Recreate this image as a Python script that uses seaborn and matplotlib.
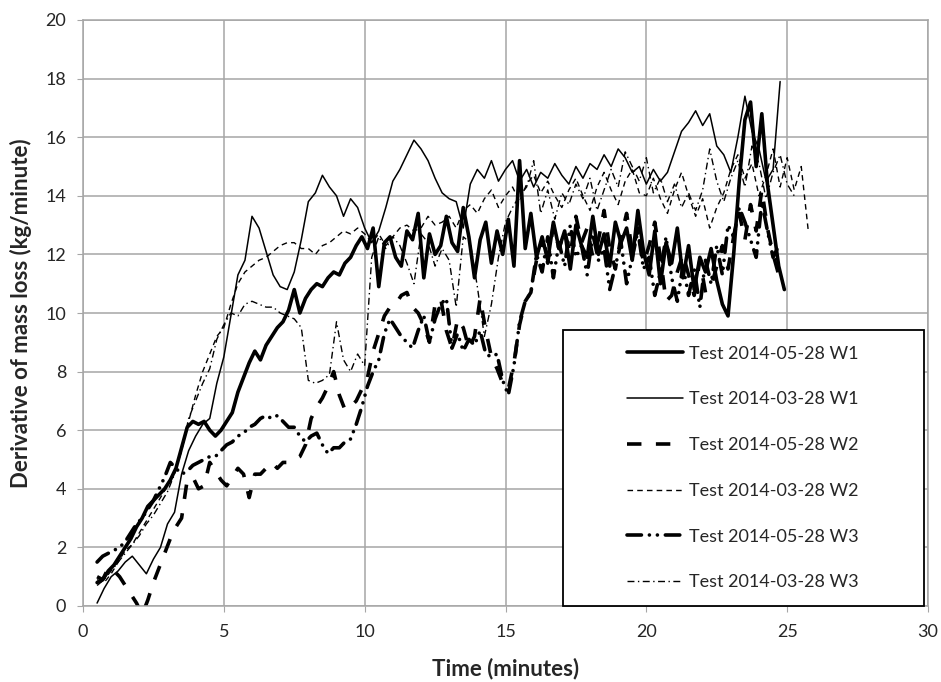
import numpy as np
import pandas as pd
import matplotlib
matplotlib.use("Agg")
import matplotlib.pyplot as plt
from matplotlib.patches import Rectangle
import seaborn as sns

t0_0528 = 0.5   # start of the 2014-05-28 records, step 0.2 min
step_0528 = 0.2
t0_0328 = 0.5   # start of the 2014-03-28 records, step 0.25 min
step_0328 = 0.25

w1_0528 = [0.8, 0.9, 1.2, 1.4, 1.7, 2.0, 2.3, 2.7, 3.0, 3.4,
           3.6, 3.8, 4.0, 4.3, 4.7, 5.4, 6.1, 6.3, 6.2, 6.3,
           6.0, 5.8, 6.0, 6.3, 6.6, 7.3, 7.8, 8.3, 8.7, 8.4,
           8.9, 9.2, 9.5, 9.7, 10.1, 10.8, 10.0, 10.5, 10.8, 11.0,
           10.9, 11.2, 11.4, 11.3, 11.7, 11.9, 12.3, 12.6, 12.2, 12.9,
           10.9, 12.4, 12.6, 11.9, 11.6, 12.8, 12.5, 13.4, 11.2, 12.7,
           12.0, 12.3, 13.3, 12.4, 12.1, 13.6, 12.6, 11.2, 12.5, 13.1,
           11.7, 12.8, 12.0, 13.2, 11.6, 15.2, 12.2, 13.4, 11.9, 12.6,
           11.8, 13.1, 12.2, 12.8, 11.5, 13.0, 12.3, 11.9, 13.3, 12.0,
           12.7, 11.6, 13.1, 12.4, 12.9, 11.8, 13.5, 12.1, 11.3, 12.8,
           11.0, 12.4, 11.7, 12.9, 11.2, 12.3, 10.8, 11.9, 11.4, 12.2,
           11.1, 10.3, 9.9, 12.0, 14.5, 16.6, 17.2, 15.0, 16.8, 14.4,
           13.0, 11.6, 10.8]

w2_0528 = [1.0, 0.9, 1.3, 1.2, 1.0, 0.7, 0.4, 0.1, -0.3, 0.2,
           0.8, 1.3, 1.8, 2.3, 2.7, 3.0, 4.3, 4.4, 4.0, 4.1,
           4.9, 4.6, 4.3, 4.1, 4.4, 4.7, 4.5, 3.7, 4.5, 4.5,
           4.7, 4.9, 4.7, 4.9, 4.9, 5.0, 5.1, 5.5, 6.4, 6.8,
           7.1, 7.5, 8.0, 7.2, 6.7, 6.8, 7.0, 7.4, 7.8, 8.7,
           9.3, 9.9, 10.2, 10.3, 10.6, 10.7, 10.2, 10.0, 9.6, 9.0,
           10.3, 10.5, 9.4, 8.8, 9.8, 9.5, 8.8, 9.2, 10.5, 9.4,
           8.5, 8.1, 7.6, 7.4, 8.3, 9.6, 10.4, 10.7, 11.8, 12.5,
           11.7, 13.0, 12.2, 12.8, 12.0, 13.3, 12.4, 12.9, 11.9, 12.5,
           13.5, 12.2, 11.5, 12.6, 13.4, 12.1, 12.9, 11.7, 12.3, 13.1,
           11.9, 10.4, 10.6, 11.4, 12.0, 11.3, 10.6, 11.8, 10.7, 10.9,
           11.6, 12.3, 11.5, 12.6, 13.4, 12.5, 13.7, 12.8, 14.2, 12.9,
           12.0, 11.3, 11.0]

w3_0528 = [1.5, 1.7, 1.8, 1.9, 2.0, 2.2, 2.5, 2.8, 3.0, 3.3,
           3.6, 4.0, 4.4, 4.9, 4.7, 4.5, 4.6, 4.8, 4.9, 5.0,
           5.1, 5.1, 5.3, 5.5, 5.6, 5.8, 5.9, 6.1, 6.2, 6.4,
           6.5, 6.4, 6.5, 6.3, 6.1, 6.1, 5.8, 5.6, 5.8, 5.9,
           5.5, 5.2, 5.4, 5.4, 5.6, 5.7, 6.2, 6.8, 7.5, 8.0,
           8.4, 9.3, 9.8, 9.5, 9.2, 9.0, 8.8, 9.4, 9.9, 9.0,
           9.8, 10.3, 10.5, 8.8, 9.3, 8.7, 9.1, 8.9, 9.4, 8.6,
           8.5, 8.6, 7.7, 7.2, 8.2, 9.7, 10.4, 10.7, 12.0, 11.4,
           12.6, 11.2, 12.4, 11.6, 13.0, 11.9, 12.3, 11.3, 12.7, 11.8,
           12.2, 10.8, 11.6, 12.4, 11.0, 11.9, 12.8, 11.5, 11.9, 10.6,
           11.4, 12.6, 11.2, 10.4, 11.6, 10.6, 11.5, 10.2, 11.8, 11.0,
           12.3, 11.3, 13.0, 12.6, 13.6, 13.1, 12.5, 11.9, 13.8, 12.8,
           11.9, 12.3]

w1_0328 = [0.1, 0.6, 1.0, 1.2, 1.5, 1.7, 1.4, 1.1, 1.6, 2.0,
           2.8, 3.2, 4.5, 5.3, 5.8, 6.2, 6.4, 7.6, 8.5, 9.9,
           11.3, 11.8, 13.3, 12.9, 12.1, 11.3, 10.9, 10.8, 11.4, 12.5,
           13.8, 14.1, 14.7, 14.3, 14.0, 13.3, 13.9, 13.6, 12.9, 12.4,
           12.8, 13.6, 14.5, 14.9, 15.4, 15.9, 15.6, 15.2, 14.6, 14.1,
           13.9, 13.8, 12.9, 14.4, 14.9, 14.6, 15.2, 14.5, 14.9, 15.2,
           14.5, 14.9, 14.3, 14.8, 14.6, 15.1, 14.7, 14.4, 15.0, 14.6,
           15.1, 14.9, 15.4, 15.0, 15.6, 15.3, 14.8, 15.0, 14.4, 14.9,
           14.5, 14.8, 15.5, 16.2, 16.5, 16.9, 16.4, 16.8, 15.7, 15.4,
           14.8, 16.0, 17.4, 16.2, 15.6, 14.5, 14.9, 17.9]

w2_0328 = [0.9, 0.8, 1.1, 1.5, 1.9, 2.1, 2.5, 2.9, 3.3, 3.7,
           4.1, 4.6, 5.3, 6.3, 7.2, 8.0, 8.6, 9.2, 9.5, 10.3,
           11.0, 11.4, 11.6, 11.8, 11.9, 12.1, 12.3, 12.4, 12.4, 12.2,
           12.2, 12.0, 12.3, 12.4, 12.6, 12.8, 12.7, 12.9, 12.7, 12.4,
           12.7, 12.3, 12.6, 12.9, 13.0, 12.8, 12.9, 13.3, 13.0, 13.1,
           13.3, 12.9, 13.5, 13.7, 13.4, 13.9, 14.2, 13.6, 14.0, 14.3,
           13.8, 14.4, 14.7, 14.1, 14.5, 14.0, 13.6, 14.2, 14.6, 14.0,
           13.5, 14.3, 14.8, 14.2, 13.7, 14.5, 14.9, 14.1, 14.0, 14.6,
           13.9, 13.4, 14.2, 14.8, 14.0, 13.3, 13.9, 12.9, 13.6, 14.1,
           14.9, 15.4, 14.6, 15.1, 14.0, 14.7, 15.6, 14.3, 15.3, 14.2,
           15.0, 12.8]

w3_0328 = [0.7, 0.9, 1.2, 1.5, 1.8, 2.1, 2.4, 2.8, 3.1, 3.5,
           3.9, 4.5, 5.3, 6.4, 7.0, 7.6, 8.1, 9.1, 9.6, 10.0,
           9.9, 10.3, 10.4, 10.3, 10.2, 10.2, 10.0, 9.9, 9.8, 9.5,
           7.7, 7.6, 7.7, 7.9, 9.7, 8.4, 8.0, 8.6, 8.2, 11.9,
           12.6, 12.2, 12.6, 12.3, 11.7, 11.0, 12.7, 12.4, 11.6, 12.2,
           11.8, 10.2, 12.6, 12.4, 10.9, 9.2, 10.3, 11.9, 13.1, 13.6,
           14.0, 14.3, 15.2, 13.4, 14.2, 13.2, 14.1, 13.7, 14.4, 13.9,
           14.6, 13.5, 14.2, 14.9, 14.3, 15.5, 15.0, 14.5, 15.3, 14.1,
           14.6, 13.8, 14.4, 13.6, 14.1, 13.5, 14.2, 15.6, 14.5, 13.8,
           14.6, 15.2, 14.3, 15.7, 15.1, 13.9, 14.8, 15.4, 14.4, 14.0]

labels = ["Test 2014-05-28 W1", "Test 2014-03-28 W1", "Test 2014-05-28 W2",
          "Test 2014-03-28 W2", "Test 2014-05-28 W3", "Test 2014-03-28 W3"]
x_ticks = [0, 5, 10, 15, 20, 25, 30]
y_ticks = [0, 2, 4, 6, 8, 10, 12, 14, 16, 18, 20]


def to_frame(vals, t0, step):
    t = t0 + step * np.arange(len(vals))
    return pd.DataFrame({"time": t, "rate": vals})


series = [
    (w1_0528, t0_0528, step_0528, dict(lw=2.6, linestyle="-")),
    (w1_0328, t0_0328, step_0328, dict(lw=1.1, linestyle="-")),
    (w2_0528, t0_0528, step_0528, dict(lw=2.6, linestyle=(0, (4, 4)))),
    (w2_0328, t0_0328, step_0328, dict(lw=1.0, linestyle=(0, (4, 3)))),
    (w3_0528, t0_0528, step_0528, dict(lw=2.6, linestyle=(0, (4, 2.2, 0.01, 2.2, 0.01, 2.2)),
                                        dash_capstyle="round")),
    (w3_0328, t0_0328, step_0328, dict(lw=1.0, linestyle=(0, (5, 2.5, 1, 2.5)))),
]

sns.set_style("white")
plt.rcParams["font.family"] = ["Lato", "DejaVu Sans"]

fig = plt.figure(figsize=(9.41, 6.82), dpi=100)
ax = fig.add_axes([83 / 941, 76 / 682, 845 / 941, 586 / 682])

for (vals, t0, step, kw), lab in zip(series, labels):
    df = to_frame(vals, t0, step)
    sns.lineplot(data=df, x="time", y="rate", ax=ax, color="black",
                 label=lab, sort=False, **kw)

ax.set_xlim(0, 30)
ax.set_ylim(0, 20)
ax.set_xticks(x_ticks)
ax.set_yticks(y_ticks)
ax.grid(True, color="#a6a6a6", lw=1.1)
ax.set_axisbelow(True)
for s in ax.spines.values():
    s.set_color("#a6a6a6")
    s.set_linewidth(1.1)
ax.tick_params(axis="both", length=4, color="#a6a6a6", labelsize=13, direction="out",
               bottom=True, left=True)
ax.tick_params(axis="x", pad=9)
ax.tick_params(axis="y", pad=8)
ax.set_xlabel("Time (minutes)", fontsize=16, fontweight="bold", labelpad=13)
ax.set_ylabel("Derivative of mass loss (kg/minute)", fontsize=16, fontweight="bold", labelpad=10)

# legend box drawn as its own rectangle (wide frame, entries centred in it)
box = Rectangle((0.568, 0.0), 0.427, 0.471, transform=ax.transAxes, facecolor="white",
                edgecolor="black", lw=1.3, zorder=4, clip_on=False)
ax.add_patch(box)
leg = ax.legend(loc="center", bbox_to_anchor=(0.781, 0.2355), frameon=False,
                fontsize=13, handlelength=3.1, handletextpad=0.3, labelspacing=1.65,
                borderpad=0.0)
leg.set_zorder(5)

fig.savefig("out.png", dpi=100)
